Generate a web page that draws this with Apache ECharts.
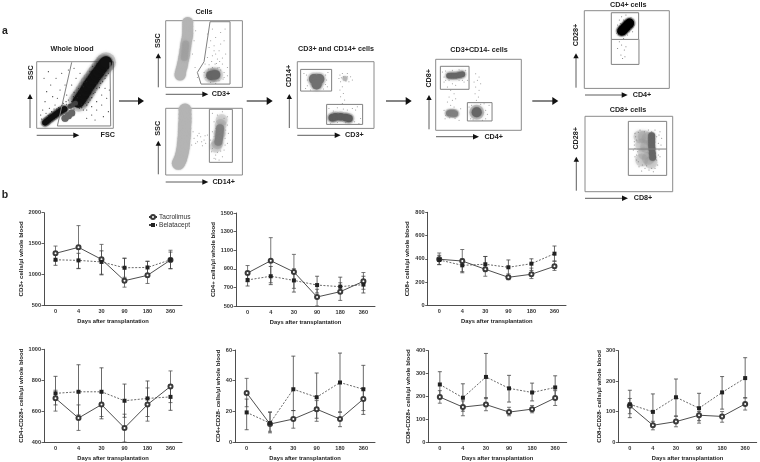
<!DOCTYPE html>
<html><head><meta charset="utf-8">
<script src="https://cdn.jsdelivr.net/npm/echarts@6/dist/echarts.min.js"></script>
<style>html,body{margin:0;padding:0;background:#fff}#c{width:760px;height:462px;filter:blur(.3px)}</style>
</head><body><div id="c"></div>
<script>
// ---------- panel b data ----------
const days = ['0','4','30','90','180','360'];
const tacName = 'Tacrolimus', belaName = 'Belatacept';
const xTitle = 'Days after transplantation';

const cd3Ticks = [500,1000,1500,2000];
const cd3Tac = [1339,1437,1242,895,982,1231];
const cd3TacHi = [1458,1790,1485,1260,1210,1390];
const cd3TacLo = [1220,1090,1000,790,850,1090];
const cd3Bela = [1235,1225,1200,1105,1110,1235];
const cd3BelaHi = [1340,1340,1380,1260,1210,1360];
const cd3BelaLo = [1145,1095,990,950,960,1090];

const cd4Ticks = [500,700,900,1100,1300,1500];
const cd4Tac = [855,987,866,597,654,765];
const cd4TacHi = [935,1235,1055,680,750,860];
const cd4TacLo = [760,750,690,500,560,680];
const cd4Bela = [780,820,775,725,708,730];
const cd4BelaHi = [860,925,900,820,810,820];
const cd4BelaLo = [715,730,650,640,640,640];

const cd8Ticks = [0,200,400,600,800];
const cd8Tac = [396,381,310,241,267,335];
const cd8TacHi = [450,480,420,270,320,380];
const cd8TacLo = [350,290,250,220,230,300];
const cd8Bela = [390,344,353,327,358,444];
const cd8BelaHi = [430,400,420,390,400,510];
const cd8BelaLo = [350,280,290,240,300,380];

const cd4pTicks = [400,600,800,1000];
const cd4pTac = [683,555,642,491,642,760];
const cd4pTacHi = [735,640,720,580,750,860];
const cd4pTacLo = [600,475,565,400,535,655];
const cd4pBela = [715,725,725,667,682,692];
const cd4pBelaHi = [825,900,880,775,795,770];
const cd4pBelaLo = [640,575,550,560,565,605];

const cd4nTicks = [0,20,40,60];
const cd4nTac = [32,11.7,15,21.4,15,28];
const cd4nTacHi = [41.5,19.5,20.5,27,19.5,35];
const cd4nTacLo = [23,7,9,13.5,10,20.5];
const cd4nBela = [19.3,12.3,34.4,29.2,38.8,34.4];
const cd4nBelaHi = [28,19.5,56,45,58,50];
const cd4nBelaLo = [8,6,20.5,15.5,19.5,18];

const cd8pTicks = [0,100,200,300,400];
const cd8pTac = [197,153,164,131,144,193];
const cd8pTacHi = [225,180,195,152,160,225];
const cd8pTacLo = [170,115,137,115,128,160];
const cd8pBela = [252,194,285,235,217,239];
const cd8pBelaHi = [308,255,388,292,258,290];
const cd8pBelaLo = [200,135,190,175,180,195];

const cd8nTicks = [0,100,200,300];
const cd8nTac = [119,55,67,88,84,125];
const cd8nTacHi = [143,68,85,100,100,145];
const cd8nTacLo = [93,40,50,62,65,105];
const cd8nBela = [124,99,147,111,163,210];
const cd8nBelaHi = [170,158,207,160,215,277];
const cd8nBelaLo = [80,60,85,70,108,145];

// ---------- panel a data: gates and populations, in instrument channels ----------
const wbGate = [[105,198],[62,7],[222,7],[220,198]];
const wbLow = [[25,17],[30,21],[36,26],[42,31],[48,35],[54,39],[60,44],[66,48],[72,52],[78,55],[84,58]];
const wbLink = [[100,66],[108,70],[116,75]];
const wbHigh = [[125,80],[132,90],[140,102],[147,113],[155,127],[162,137],[170,148],[178,160],[186,170],[194,182],[202,192],[208,198]];
const wbMono = [[85,30],[95,38],[105,46]];
const wbSpeck = [[12,40],[18,55],[25,80],[30,110],[22,150],[35,170],[42,130],[48,95],[55,70],[38,60],[62,90],[70,115],[58,150],[75,165],[85,130],[90,100],[95,85],[80,75],[100,70],[110,95],[105,130],[95,175],[118,150],[125,120],[112,180],[130,165],[15,28],[28,45],[45,50],[52,58],[66,62],[90,72],[105,80],[118,85],[128,60],[140,55],[150,70],[160,85],[170,105],[180,120],[192,135],[205,150],[215,165],[165,40],[180,55],[195,70],[210,90],[218,115],[150,30],[175,25],[200,35],[215,50],[140,125],[130,100],[150,140],[160,160],[172,178],[118,68],[135,72],[148,85],[158,100],[168,118],[178,135],[190,150],[200,165],[210,178],[112,108],[120,100],[128,112],[136,128],[144,138],[152,152],[160,170],[168,186],[180,192],[122,92],[145,75],[155,78],[165,92],[175,108],[188,122],[198,140],[208,158],[216,180],[88,80],[75,68],[60,58],[70,58],[40,42],[50,48],[35,38],[112,58],[124,68],[135,62],[150,55],[165,65],[180,80],[195,100],[205,120]];

const c3Gate = [[133,197],[193,197],[193,10],[106,10],[95,45],[115,77],[133,197]];
const c3Band = [[66,195],[66,183],[66,172],[66,162],[65,152],[63,142],[61,132],[60,122],[58,112],[57,102],[55,92],[53,82],[51,72],[49,62],[46,52],[44,42],[43,37]];
const c3Mid = [[60,130],[59,120],[58,110],[57,100],[56,90]];
const c3Pos = [[135,36],[143,37],[150,38]];
const c3Speck = [[125,160],[140,175],[150,150],[165,165],[175,140],[130,120],[145,125],[160,110],[180,100],[125,90],[140,95],[155,85],[170,70],[185,60],[118,70],[130,68],[148,70],[160,60],[175,45],[185,35],[115,45],[120,30],[172,25],[160,20],[135,15],[150,12],[95,30],[88,60],[80,100],[85,140],[90,170],[150,100],[165,130],[135,140],[178,175],[128,55],[140,60],[155,58],[165,52],[122,42],[175,30],[138,78],[152,72],[162,78],[145,110],[170,88]];

const c14Gate = [[131,197],[200,197],[200,38],[131,38],[131,197]];
const c14Band = [[58,195],[58,182],[58,170],[58,160],[57,150],[57,140],[56,130],[56,120],[55,110],[54,100],[53,90],[52,80],[50,70],[48,60],[45,50],[42,42],[38,35]];
const c14Pos = [[163,140],[162,130],[161,120],[160,110],[158,100]];
const c14Wide = [[168,165],[165,150],[162,125],[155,95],[150,85]];
const c14Speck = [[140,185],[170,190],[185,175],[145,160],[185,150],[140,130],[188,125],[135,105],[185,95],[140,80],[175,75],[150,60],[170,55],[160,45],[145,50],[85,110],[95,100],[105,115],[115,105],[100,125],[90,95],[120,95],[110,88],[125,120],[178,110],[138,70],[155,180],[175,170],[150,140],[180,135],[145,115],[178,90],[165,72],[155,68],[150,48],[82,130],[95,118],[108,100],[118,118],[78,90]];

const t1GateA = [[10,177],[103,177],[103,112],[10,112],[10,177]];
const t1GateB = [[88,72],[196,72],[196,12],[88,12],[88,72]];
const t1Mono = [[50,148],[66,148],[58,142],[58,132]];
const t1Tcell = [[105,32],[115,35],[130,35],[145,33],[155,30]];
const t1Both = [[143,150]];
const t1Speck = [[128,160],[130,140],[135,165],[150,165],[160,155],[155,140],[125,150],[165,145],[135,125],[138,105],[130,95],[142,85],[135,75],[128,115],[20,165],[92,168],[25,120],[90,125],[40,115],[78,118],[95,60],[180,65],[100,14],[185,15],[175,55],[120,62],[165,60],[190,30],[28,160],[85,160],[30,128],[84,132],[70,122],[48,120],[30,145],[88,145],[138,58],[150,55],[108,52],[172,20],[120,18],[145,17],[150,155],[138,155],[146,142],[132,152]];

const t2GateA = [[14,192],[100,192],[100,123],[14,123],[14,192]];
const t2GateB = [[95,83],[169,83],[169,28],[95,28],[95,83]];
const t2Cd8 = [[40,164],[47,164],[54,164],[61,164],[68,165],[75,167],[80,168]];
const t2Cd4 = [[123,54]];
const t2Dn = [[40,51],[47,51],[53,51],[58,50]];
const t2Speck = [[40,150],[50,140],[35,130],[60,135],[45,120],[55,110],[40,100],[50,90],[35,85],[60,95],[45,75],[55,70],[120,170],[130,160],[125,150],[115,145],[135,140],[120,130],[130,120],[118,110],[128,100],[122,90],[25,160],[90,180],[20,175],[95,150],[85,145],[30,45],[70,30],[25,60],[75,65],[105,35],[150,35],[160,75],[100,70],[145,80],[30,150],[70,150],[80,150],[30,178],[70,182],[50,180],[25,145],[42,38],[58,36],[28,35],[150,60],[155,48],[108,75],[135,78],[112,32],[140,30]];

const cd4GateTop = [[81,227],[163,227],[163,147],[81,147],[81,227]];
const cd4GateLow = [[81,147],[81,72],[164,72],[164,147]];
const cd4Core = [[112,172],[117,176],[122,182],[127,187],[132,192],[136,196]];
const cd4Speck = [[105,205],[112,215],[125,220],[140,212],[148,205],[150,190],[145,170],[130,160],[118,150],[105,160],[98,175],[100,190],[105,140],[112,130],[120,115],[110,100],[115,90],[125,125],[100,120],[122,95],[108,195],[118,205],[140,178],[135,170],[98,165]];

const cd8GateTop = [[130,211],[245,211],[245,128],[130,128],[130,211]];
const cd8GateLow = [[130,128],[130,49],[245,49],[245,128]];
const cd8Core = [[200,168],[200,158],[200,148],[200,138],[201,128],[202,115],[203,103]];
const cd8Wide = [[165,165],[178,165],[190,160],[170,140],[185,135],[178,115],[190,100],[198,88],[170,95]];
const cd8Speck = [[150,175],[225,180],[215,165],[155,155],[148,140],[220,145],[158,120],[150,105],[222,125],[160,90],[172,80],[215,95],[180,70],[192,65],[210,70],[205,60],[145,125],[230,160],[165,185],[190,185],[210,185],[155,95],[225,105],[170,62],[152,165],[148,150],[150,130],[155,110],[162,75],[185,78],[200,70],[218,80],[220,110],[228,140],[222,170],[178,180],[200,180],[160,178]];

// ---------- charts ----------
const ink = '#3a3a3a';
const lineCharts = [
  {box:[44,212.7,138,92.3], name:'CD3+ cells/µl whole blood', gap:20, ticks:cd3Ticks, tac:cd3Tac, tacHi:cd3TacHi, tacLo:cd3TacLo, bela:cd3Bela, belaHi:cd3BelaHi, belaLo:cd3BelaLo},
  {box:[236,213,139,93], name:'CD4+ cells/µl whole blood', gap:19, ticks:cd4Ticks, tac:cd4Tac, tacHi:cd4TacHi, tacLo:cd4TacLo, bela:cd4Bela, belaHi:cd4BelaHi, belaLo:cd4BelaLo},
  {box:[427.7,212.3,138.3,93], name:'CD8+ cells/µl whole blood', gap:17, ticks:cd8Ticks, tac:cd8Tac, tacHi:cd8TacHi, tacLo:cd8TacLo, bela:cd8Bela, belaHi:cd8BelaHi, belaLo:cd8BelaLo},
  {box:[44,349.3,138,92.7], name:'CD4+CD28+ cells/µl whole blood', gap:20, ticks:cd4pTicks, tac:cd4pTac, tacHi:cd4pTacHi, tacLo:cd4pTacLo, bela:cd4pBela, belaHi:cd4pBelaHi, belaLo:cd4pBelaLo},
  {box:[235,350,140,92.3], name:'CD4+CD28- cells/µl whole blood', gap:14, ticks:cd4nTicks, tac:cd4nTac, tacHi:cd4nTacHi, tacLo:cd4nTacLo, bela:cd4nBela, belaHi:cd4nBelaHi, belaLo:cd4nBelaLo},
  {box:[428.3,350.7,138.4,92.6], name:'CD8+CD28+ cells/µl whole blood', gap:17, ticks:cd8pTicks, tac:cd8pTac, tacHi:cd8pTacHi, tacLo:cd8pTacLo, bela:cd8pBela, belaHi:cd8pBelaHi, belaLo:cd8pBelaLo},
  {box:[618.3,350.7,138.4,92.6], name:'CD8+CD28- cells/µl whole blood', gap:16, ticks:cd8nTicks, tac:cd8nTac, tacHi:cd8nTacHi, tacLo:cd8nTacLo, bela:cd8nBela, belaHi:cd8nBelaHi, belaLo:cd8nBelaLo}
];

const grey = {dark:'#666666', mid:'#808080', light:'#b4b4b4', black:'#111111'};
const flowPanels = [
  {box:[36.7,61.7,76.6,66.6], gates:[wbGate], layers:[
    {d:wbLow,s:9,c:'#333',o:.3,b:2},{d:wbHigh,s:20,c:'#333',o:.18,b:3},{d:wbHigh,s:12,c:grey.black,o:1,b:2},{d:wbLow,s:5.5,c:grey.black,o:1,b:1},{d:wbLink,s:5,c:'#444',o:.8,b:1},{d:wbMono,s:7,c:grey.dark,o:1,b:1},{d:wbSpeck,s:1.1,c:'#222',o:1}]},
  {box:[165.7,20.7,76.7,66.7], gates:[c3Gate], layers:[
    {d:c3Band,s:11,c:grey.light,o:1,b:2},{d:c3Mid,s:7,c:'#a0a0a0',o:.8,b:3},{d:c3Pos,s:15,c:grey.dark,o:.16,b:3},{d:c3Pos,s:9,c:grey.dark,o:1,b:2},{d:c3Speck,s:1,c:'#888',o:1}]},
  {box:[165.7,108.3,76.7,66.7], gates:[c14Gate], layers:[
    {d:c14Band,s:13,c:grey.light,o:1,b:2},{d:c14Wide,s:12,c:grey.mid,o:.22,b:3},{d:c14Pos,s:8,c:grey.mid,o:.9,b:3},{d:c14Speck,s:1,c:'#888',o:1}]},
  {box:[297.3,61.7,76.7,66.7], gates:[t1GateA,t1GateB], layers:[
    {d:t1Mono,s:14,c:grey.mid,o:.14,b:3},{d:t1Mono,s:10,c:'#707070',o:1,b:2},{d:t1Tcell,s:11,c:grey.dark,o:.2,b:3},{d:t1Tcell,s:7.5,c:'#5c5c5c',o:1,b:2},{d:t1Both,s:5,c:'#b0b0b0',o:.8,b:2},{d:t1Speck,s:1,c:'#888',o:1}]},
  {box:[435.7,59.3,85.6,71], gates:[t2GateA,t2GateB], layers:[
    {d:t2Cd8,s:9,c:grey.dark,o:.14,b:3},{d:t2Cd8,s:5.5,c:grey.dark,o:1,b:1.5},{d:t2Cd4,s:15,c:grey.dark,o:.3,b:3},{d:t2Cd4,s:10,c:grey.dark,o:1,b:2},{d:t2Dn,s:9,c:grey.mid,o:.22,b:2},{d:t2Dn,s:6,c:grey.mid,o:.95,b:2},{d:t2Speck,s:1,c:'#888',o:1}]},
  {box:[584.3,10.7,85,77.7], gates:[cd4GateTop,cd4GateLow], layers:[
    {d:cd4Core,s:12,c:'#222',o:.2,b:2},{d:cd4Core,s:9,c:'#000',o:1,b:1.5},{d:cd4Speck,s:1,c:'#666',o:1}]},
  {box:[585,116.3,87.7,75.4], gates:[cd8GateTop,cd8GateLow], layers:[
    {d:cd8Wide,s:13,c:'#999',o:.3,b:3},{d:cd8Core,s:7,c:grey.dark,o:.95,b:2},{d:cd8Speck,s:1,c:'#777',o:1}]}
];

const labelFont = 'Liberation Sans';
const txt = (s,x,y,o={}) => ({type:'text',x,y,rotation:o.rot?Math.PI/2:0,silent:true,
  style:{text:s,x:0,y:0,align:'center',verticalAlign:'middle',fill:'#222',
         font:`bold ${o.size||7.2}px "${labelFont}"`}});
function arrow(x1,y1,x2,y2,w,hl,hw){
  const dx=Math.sign(x2-x1), dy=Math.sign(y2-y1), nx=-dy, ny=dx;
  return [
    {type:'line',silent:true,shape:{x1,y1,x2:x2-dx*hl*.5,y2:y2-dy*hl*.5},style:{stroke:'#333',lineWidth:w}},
    {type:'polygon',silent:true,shape:{points:[[x2,y2],[x2-dx*hl+nx*hw,y2-dy*hl+ny*hw],[x2-dx*hl-nx*hw,y2-dy*hl-ny*hw]]},style:{fill:'#111'}}
  ];
}
const graphic = [
  txt('a',5,31,{size:10.5}), txt('b',5,195,{size:10.5}),
  txt('Whole blood',72,49), txt('Cells',204,12), txt('CD3+ and CD14+ cells',336,49),
  txt('CD3+CD14- cells',479,50.3), txt('CD4+ cells',628.3,5.3), txt('CD8+ cells',628,109.7),
  txt('SSC',30.7,72.7,{rot:1}), txt('FSC',107.7,135.3),
  txt('SSC',158,40.7,{rot:1}), txt('CD3+',221,94.3),
  txt('SSC',158,128.3,{rot:1}), txt('CD14+',223.7,182),
  txt('CD14+',289.3,76,{rot:1}), txt('CD3+',354.3,135.3),
  txt('CD8+',429.3,78.3,{rot:1}), txt('CD4+',493.7,136.7),
  txt('CD28+',576,35,{rot:1}), txt('CD4+',642,95),
  txt('CD28+',576.3,138.3,{rot:1}), txt('CD8+',643,198.3),
  ...arrow(119,101,144,101,1.2,6,4), ...arrow(246.7,101,272.7,101,1.2,6,4),
  ...arrow(386,101,411.7,101,1.2,6,4), ...arrow(532.3,101,558.3,101,1.2,6,4),
  ...arrow(30,128,30,94,.8,5,2.7), ...arrow(36.7,135.3,79.3,135.3,.8,6,2.7),
  ...arrow(158.3,87.3,158.3,53.3,.8,5,2.7), ...arrow(165.7,94.3,208.3,94.3,.8,6,2.7),
  ...arrow(158.3,174.3,158.3,140.7,.8,5,2.7), ...arrow(165.7,182,208.3,182,.8,6,2.7),
  ...arrow(289.3,128,289.3,94,.8,5,2.7), ...arrow(297.3,135.3,340.7,135.3,.8,6,2.7),
  ...arrow(429,129.3,429,95,.8,5,2.7), ...arrow(436,136.7,479,136.7,.8,6,2.7),
  ...arrow(576,87.7,576,53.3,.8,5,2.7), ...arrow(585,95,627.7,95,.8,6,2.7),
  ...arrow(576.3,190.7,576.3,156.7,.8,5,2.7), ...arrow(585,198.3,628,198.3,.8,6,2.7)
];

const grids=[], xAxes=[], yAxes=[], series=[];
const rect = b => ({left:b[0],top:b[1],width:b[2],height:b[3],containLabel:false});

function errorSeries(i,name,lo,hi,color){
  return {type:'custom',name,xAxisIndex:i,yAxisIndex:i,z:2,silent:true,clip:false,
    encode:{x:0,y:[1,2]},
    data:days.map((d,k)=>[k,lo[k],hi[k]]),
    renderItem(params,api){
      const a=api.coord([api.value(0),api.value(1)]), b=api.coord([api.value(0),api.value(2)]);
      const st={stroke:color,lineWidth:.8,fill:null};
      const seg=(x1,y1,x2,y2)=>({type:'line',shape:{x1,y1,x2,y2},style:st});
      return {type:'group',children:[seg(a[0],a[1],b[0],b[1]),seg(a[0]-2,a[1],a[0]+2,a[1]),seg(b[0]-2,b[1],b[0]+2,b[1])]};
    }};
}

lineCharts.forEach((c,i)=>{
  grids.push(rect(c.box));
  xAxes.push({gridIndex:i,type:'category',data:days,boundaryGap:true,
    axisLine:{lineStyle:{color:ink,width:.9}},
    axisTick:{alignWithLabel:true,length:2.5,lineStyle:{color:ink,width:.8}},
    axisLabel:{fontFamily:labelFont,fontSize:5.6,fontWeight:'bold',color:'#333',margin:3,interval:0},
    name:xTitle,nameLocation:'middle',nameGap:13,
    nameTextStyle:{fontFamily:labelFont,fontSize:5.8,fontWeight:'bold',color:'#222'}});
  yAxes.push({gridIndex:i,type:'value',min:c.ticks[0],max:c.ticks[c.ticks.length-1],
    axisLine:{show:true,lineStyle:{color:ink,width:.9}},
    axisTick:{show:true,length:2.5,customValues:c.ticks,lineStyle:{color:ink,width:.8}},
    axisLabel:{fontFamily:labelFont,fontSize:5.6,fontWeight:'bold',color:'#333',margin:3,customValues:c.ticks,formatter:v=>String(v)},
    splitLine:{show:false},
    name:c.name,nameLocation:'middle',nameGap:c.gap,
    nameTextStyle:{fontFamily:labelFont,fontSize:6.1,fontWeight:'bold',color:'#222'}});
  series.push(errorSeries(i,'err-t',c.tacLo,c.tacHi,'#555'));
  series.push(errorSeries(i,'err-b',c.belaLo,c.belaHi,'#444'));
  series.push({type:'line',name:tacName,xAxisIndex:i,yAxisIndex:i,data:c.tac,z:3,
    symbol:'emptyCircle',symbolSize:4,showSymbol:true,
    lineStyle:{color:ink,width:.9},itemStyle:{color:ink,borderColor:ink,borderWidth:.8}});
  series.push({type:'line',name:belaName,xAxisIndex:i,yAxisIndex:i,data:c.bela,z:3,
    symbol:'rect',symbolSize:4,showSymbol:true,
    lineStyle:{color:'#444',width:.8,type:[2,1.5]},itemStyle:{color:'#222'}});
});

flowPanels.forEach((p,n)=>{
  const i=lineCharts.length+n, b=p.box;
  grids.push({...rect(b),show:true,borderColor:'#8a8a8a',borderWidth:1,backgroundColor:'#fff'});
  // each panel's channel range spans three channels per pixel
  xAxes.push({gridIndex:i,type:'value',min:0,max:b[2]*3,show:false});
  yAxes.push({gridIndex:i,type:'value',min:0,max:b[3]*3,show:false,splitLine:{show:false}});
  p.layers.forEach((l,k)=>series.push({type:'scatter',xAxisIndex:i,yAxisIndex:i,clip:true,silent:true,z:2+k*.01,
    data:l.d,symbolSize:l.s,
    itemStyle:{color:l.c,opacity:l.o,shadowBlur:l.b||0,shadowColor:l.b?l.c:'transparent'}}));
  p.gates.forEach(g=>series.push({type:'line',xAxisIndex:i,yAxisIndex:i,data:g,z:4,silent:true,
    showSymbol:false,symbol:'none',lineStyle:{color:'#808080',width:1}}));
});

const chart = echarts.init(document.getElementById('c'),null,{renderer:'canvas'});
chart.setOption({
  animation:false,backgroundColor:'#fff',textStyle:{fontFamily:labelFont},
  grid:grids,xAxis:xAxes,yAxis:yAxes,series,graphic,tooltip:{show:false},
  legend:{data:[tacName,belaName],left:148,top:213.5,orient:'vertical',itemWidth:8,itemHeight:5,itemGap:1,
    padding:0,selectedMode:false,
    textStyle:{fontFamily:labelFont,fontSize:6.6,color:'#333',padding:[0,0,0,-3]}}
});
</script></body></html>
